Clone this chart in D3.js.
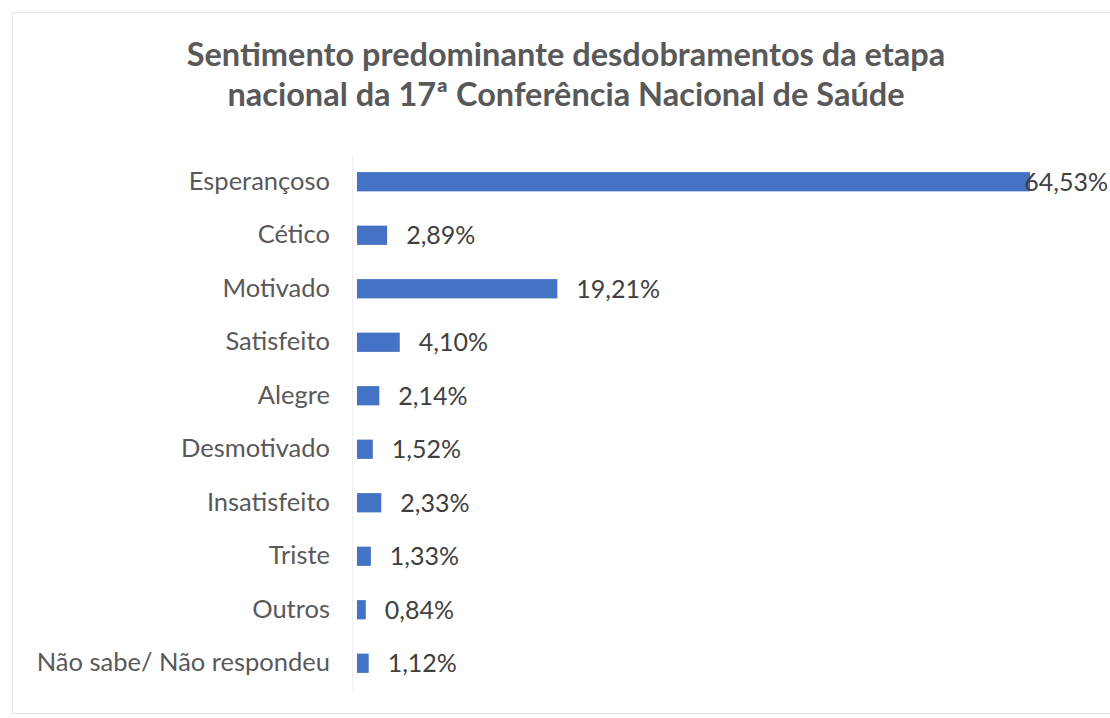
<!DOCTYPE html>
<html>
<head>
<meta charset="utf-8">
<script src="https://cdn.jsdelivr.net/npm/d3@7"></script>
<style>
  html, body { margin: 0; padding: 0; background: #fff; }
  svg { display: block; }
</style>
</head>
<body>
<div id="chart"></div>
<script>
// data
const categories = ["Esperançoso", "Cético", "Motivado", "Satisfeito", "Alegre",
                    "Desmotivado", "Insatisfeito", "Triste", "Outros", "Não sabe/ Não respondeu"];
const values = [64.53, 2.89, 19.21, 4.10, 2.14, 1.52, 2.33, 1.33, 0.84, 1.12];
const titleLines = ["Sentimento predominante desdobramentos da etapa",
                    "nacional da 17ª Conferência Nacional de Saúde"];

const W = 1110, H = 718;
const font = "Lato, Calibri, 'Open Sans', sans-serif";

let svg = d3.select("#chart")
            .append("svg")
            .attr("width", W)
            .attr("height", H);

// chart frame
svg.append("rect")
   .attr("x", 12.5).attr("y", 12.5)
   .attr("width", W + 20).attr("height", 701)
   .attr("fill", "none")
   .attr("stroke", "#e3e3e3");

// title
svg.append("text")
   .attr("x", 566).attr("y", 66)
   .attr("text-anchor", "middle")
   .attr("font-family", font)
   .attr("font-weight", "bold")
   .attr("font-size", 32.5)
   .attr("fill", "#595959")
   .selectAll("tspan")
   .data(titleLines)
   .join("tspan")
   .attr("x", 566)
   .attr("dy", (d, i) => i ? 40 : 0)
   .text(d => d);

let x = d3.scaleLinear()
          .domain([0, d3.max(values)])
          .range([357, 1030]);

let y = d3.scaleBand()
          .domain(categories)
          .range([155, 690])
          .paddingInner(0.64)
          .paddingOuter(0.32);

// faint category axis line
svg.append("line")
   .attr("x1", 352.5).attr("x2", 352.5)
   .attr("y1", 155).attr("y2", 690)
   .attr("stroke", "#f0f0f0");

let yAxis = d3.axisLeft(y).tickSize(0).tickPadding(0);
let ag = svg.append("g")
   .attr("transform", "translate(330,0)")
   .call(yAxis);
ag.select(".domain").remove();
ag.selectAll("text")
  .attr("font-family", font)
  .attr("font-size", 25.5)
  .attr("fill", "#595959");

// bars
svg.append("g")
   .selectAll("rect")
   .data(values)
   .join("rect")
   .attr("x", x(0))
   .attr("y", (d, i) => y(categories[i]))
   .attr("width", d => x(d) - x(0))
   .attr("height", y.bandwidth())
   .attr("fill", "#4472c4");

// value labels (kept inside the picture when they would run off it)
let fmt = v => v.toFixed(2).replace(".", ",") + "%";
svg.append("g")
   .selectAll("text")
   .data(values)
   .join("text")
   .attr("font-family", font)
   .attr("font-size", 25)
   .attr("fill", "#404040")
   .attr("dy", "0.35em")
   .attr("y", (d, i) => y(categories[i]) + y.bandwidth() / 2)
   .text(fmt)
   .attr("x", function(d) {
       let tw = this.getComputedTextLength();
       return Math.min(x(d) + 19, W - 2 - tw);
   });
</script>
</body>
</html>
